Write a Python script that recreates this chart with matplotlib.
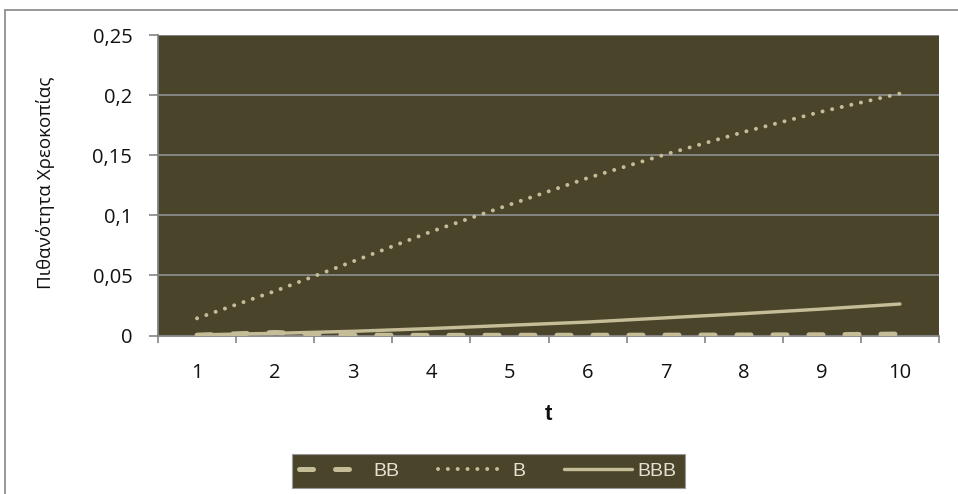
import matplotlib
matplotlib.use("Agg")
import matplotlib.pyplot as plt
from matplotlib.patches import Rectangle
import numpy as np

# Default probability by horizon t for three rating classes
t = [1, 2, 3, 4, 5, 6, 7, 8, 9, 10]
bb = [0.0003, 0.0025, 0.0003, 0.0001, 0.0002, 0.0002, 0.0003, 0.0004, 0.0006, 0.0012]
b = [0.0143, 0.0370, 0.0617, 0.0865, 0.1088, 0.1310, 0.1507, 0.1693, 0.1863, 0.2013]
bbb = [0.0005, 0.0018, 0.0035, 0.0058, 0.0085, 0.0112, 0.0147, 0.0182, 0.0220, 0.0262]

y_ticks = [0, 0.05, 0.10, 0.15, 0.20, 0.25]
y_ticklabels = ["0", "0,05", "0,1", "0,15", "0,2", "0,25"]
y_label = "Πιθανότητα Χρεοκοπίας"
x_label = "t"

BG = "#4A452A"
LINE = "#C4BD97"
GRID = "#848484"
TEXT = "#111111"

W, H = 958, 494
fig = plt.figure(figsize=(W / 100, H / 100), dpi=100)
fig.patch.set_facecolor("white")

# Chart frame (left and top edges visible)
fig.patches.append(Rectangle((5 / W, -0.2), 1.2, 1.2 - 10 / H,
                             transform=fig.transFigure, fill=False,
                             edgecolor="#8f8f8f", linewidth=1.3))

left, right = 158 / W, 939 / W
bottom, top = 1 - 335.5 / H, 1 - 35 / H
ax = fig.add_axes([left, bottom, right - left, top - bottom])
ax.set_facecolor(BG)

x = np.arange(len(t)) + 1
px = 72 / 100  # points per pixel

# BB: dashed
ax.plot(x, bb, color=LINE, linewidth=5 * px, linestyle=(0, (2.8, 4.4)),
        dash_capstyle="round", solid_capstyle="round", label="BB", zorder=3)
# B: round dots
ax.plot(x, b, color=LINE, linewidth=4 * px, linestyle=(0, (0.01, 2.45)),
        dash_capstyle="round", label="B", zorder=3)
# BBB: solid
ax.plot(x, bbb, color=LINE, linewidth=3.4 * px, solid_capstyle="round",
        label="BBB", zorder=3)

ax.set_xlim(0.5, len(t) + 0.5)
ax.set_ylim(0, 0.25)

# Category boundaries carry the tick marks; labels sit at the centres
ax.set_xticks(np.arange(0.5, len(t) + 1, 1.0))
ax.set_xticklabels([])
ax.set_xticks(x, minor=True)
ax.set_xticklabels([str(v) for v in t], minor=True)
ax.tick_params(axis="x", which="major", direction="out", length=5,
               width=1.2, color=GRID)
ax.tick_params(axis="x", which="minor", length=0, pad=20,
               labelsize=14.5, labelcolor=TEXT)

ax.set_yticks(y_ticks)
ax.set_yticklabels(y_ticklabels)
ax.tick_params(axis="y", direction="out", length=6.5, width=1.2, color=GRID,
               pad=12, labelsize=14.5, labelcolor=TEXT)

for lab in ax.get_xticklabels(minor=True) + ax.get_yticklabels():
    lab.set_fontfamily("Open Sans")

ax.grid(axis="y", color=GRID, linewidth=1.4, zorder=1)
ax.set_axisbelow(True)

for s in ("top", "right"):
    ax.spines[s].set_visible(False)
for s in ("left", "bottom"):
    ax.spines[s].set_color(GRID)
    ax.spines[s].set_linewidth(1.3)

ax.set_ylabel(y_label, fontfamily="Open Sans", fontsize=13.5, color=TEXT)
ax.yaxis.set_label_coords(55 / W, 1 - 183 / H, transform=fig.transFigure)
fig.text(548 / W, 1 - 414 / H, x_label, ha="center", va="center",
         fontsize=16, fontweight="bold", fontfamily="Liberation Sans", color=TEXT)

leg = ax.legend(loc="center", bbox_to_anchor=(488 / W, 1 - 471 / H),
                bbox_transform=fig.transFigure, ncol=3, frameon=True,
                fancybox=False, facecolor=BG, edgecolor="#9a9a9a",
                framealpha=1, handlelength=3.5, handletextpad=0.3,
                columnspacing=2.0, borderpad=0.4,
                prop={"family": "Liberation Sans", "size": 14})
leg.get_frame().set_linewidth(0.8)
for txt in leg.get_texts():
    txt.set_color("#E4E1D3")

fig.savefig("out.png", dpi=100, facecolor="white")
